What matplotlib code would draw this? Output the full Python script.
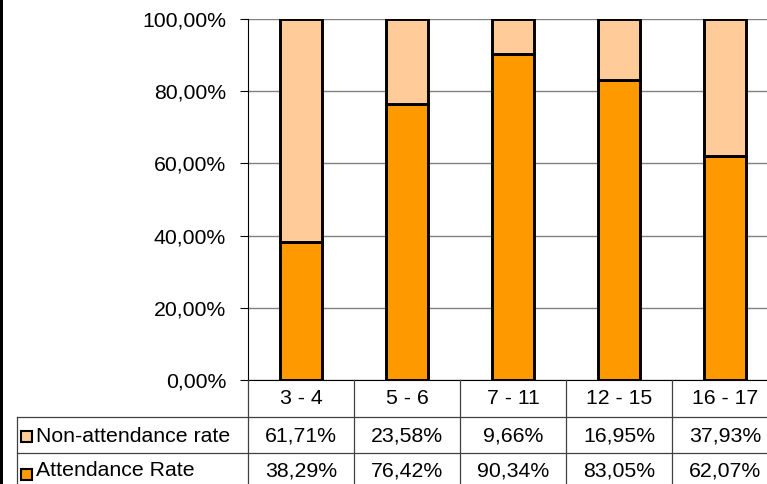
import matplotlib
matplotlib.use("Agg")
import matplotlib.pyplot as plt
import matplotlib.transforms as mtransforms
from matplotlib.lines import Line2D
from matplotlib.patches import Rectangle

categories = ["3 - 4", "5 - 6", "7 - 11", "12 - 15", "16 - 17"]
attendance = [38.29, 76.42, 90.34, 83.05, 62.07]
non_attendance = [61.71, 23.58, 9.66, 16.95, 37.93]
series_names = ["Non-attendance rate", "Attendance Rate"]
yticks = [0, 20, 40, 60, 80, 100]

W, H = 767, 484
plt.rcParams['font.family'] = ['Liberation Sans', 'DejaVu Sans']
FS = 15.3
C_ATT = "#FF9900"
C_NON = "#FFCC99"
LINE_C = "#404040"

fig = plt.figure(figsize=(W / 100, H / 100), dpi=100)

def fx(px):
    return px / W

def fy(py):
    return 1 - py / H

ax = fig.add_axes([fx(248), fy(380), fx(778) - fx(248), fy(19) - fy(380)])
x = list(range(len(categories)))
ax.bar(x, attendance, width=0.4, color=C_ATT, edgecolor="black", linewidth=2.1, zorder=3)
ax.bar(x, non_attendance, width=0.4, bottom=attendance, color=C_NON,
       edgecolor="black", linewidth=2.1, zorder=3)
ax.set_xlim(-0.5, len(categories) - 0.5)
ax.set_ylim(0, 100)
ax.set_yticks(yticks)
ax.set_yticklabels([f"{v:.2f}".replace(".", ",") + "%" for v in yticks], fontsize=FS)
ax.set_xticks([])
ax.yaxis.grid(True, color="#808080", linewidth=1.0, zorder=0)
ax.set_axisbelow(True)
ax.tick_params(axis="y", direction="out", length=5.8, width=0.8, pad=10, colors="black")
for s in ["top", "right"]:
    ax.spines[s].set_visible(False)
ax.spines["left"].set_linewidth(0.8)
ax.spines["bottom"].set_linewidth(0.8)
ax.spines["left"].set_color("black")
ax.spines["bottom"].set_color("black")

# Data table below the axes
trans = mtransforms.blended_transform_factory(ax.transData, fig.transFigure)
n = len(categories)
for k in range(n):
    b = k + 0.5
    fig.add_artist(Line2D([b, b], [fy(380), fy(490)], transform=trans,
                          color=LINE_C, linewidth=0.9, clip_on=False))
fig.add_artist(Line2D([-0.5, -0.5], [fy(380), fy(490)], transform=trans,
                      color=LINE_C, linewidth=0.9, clip_on=False))
fig.add_artist(Line2D([fx(17), fx(17)], [fy(417), fy(490)], transform=fig.transFigure,
                      color=LINE_C, linewidth=0.9))
for yy in [417, 453]:
    fig.add_artist(Line2D([fx(17), 1.0], [fy(yy), fy(yy)], transform=fig.transFigure,
                          color=LINE_C, linewidth=0.9))

row_y = [398, 436, 471]
for i, c in enumerate(categories):
    fig.text(i, fy(row_y[0]), c, transform=trans, ha="center", va="center", fontsize=FS)
    fig.text(i, fy(row_y[1]), f"{non_attendance[i]:.2f}".replace(".", ",") + "%",
             transform=trans, ha="center", va="center", fontsize=FS)
    fig.text(i, fy(row_y[2]), f"{attendance[i]:.2f}".replace(".", ",") + "%",
             transform=trans, ha="center", va="center", fontsize=FS)

# legend keys + names
for name, col, ry, sq in [(series_names[0], C_NON, row_y[1], 436),
                          (series_names[1], C_ATT, row_y[2], 474)]:
    fig.add_artist(Rectangle((fx(20.5), fy(sq + 5.5)), fx(11), fy(0) - fy(11),
                             transform=fig.transFigure, facecolor=col,
                             edgecolor="black", linewidth=1.5))
    fig.text(fx(36), fy(ry), name, ha="left", va="center", fontsize=FS)

# black bar at left edge
fig.add_artist(Rectangle((0, 0), fx(3.5), 1, transform=fig.transFigure,
                         facecolor="black", edgecolor="none"))

fig.savefig("out.png", dpi=100)
